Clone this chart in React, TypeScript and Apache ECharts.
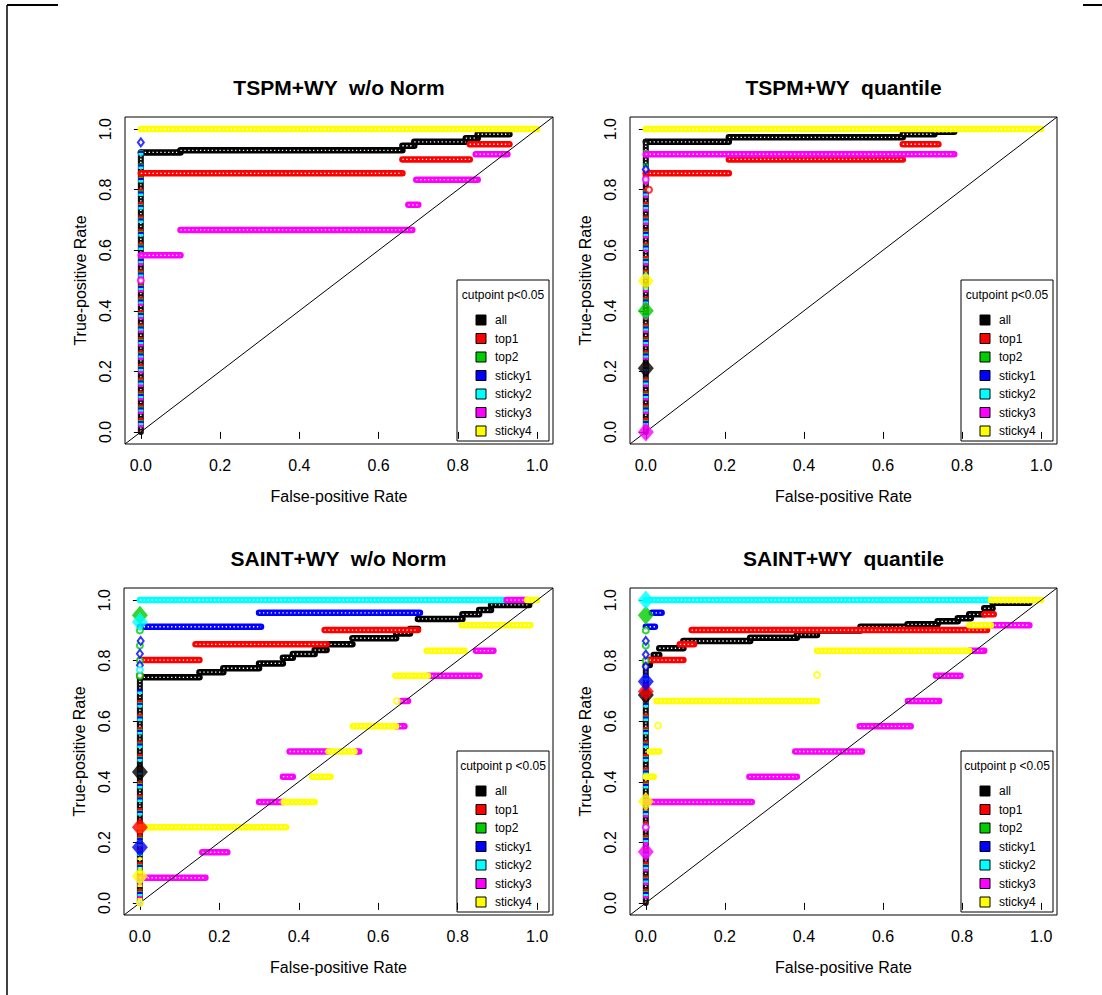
import React, { useEffect, useRef } from 'react';
import * as echarts from 'echarts';

// ---- categories / labels -------------------------------------------------
const methods = ['all', 'top1', 'top2', 'sticky1', 'sticky2', 'sticky3', 'sticky4'];
const methodColors = ['#000000', '#FF0000', '#00CD00', '#0000FF', '#00FFFF', '#FF00FF', '#FFFF00'];
const rateTicks = [0, 0.2, 0.4, 0.6, 0.8, 1.0];
const panelTitles = ['TSPM+WY  w/o Norm', 'TSPM+WY  quantile', 'SAINT+WY  w/o Norm', 'SAINT+WY  quantile'];
const legendTitles = ['cutpoint p<0.05', 'cutpoint p<0.05', 'cutpoint p <0.05', 'cutpoint p <0.05'];
const xAxisName = 'False-positive Rate';
const yAxisName = 'True-positive Rate';

// ---- ROC data ------------------------------------------------------------
// Horizontal runs of each curve: [tpr, fpr from, fpr to]
// Rise: tpr reached by the dense run of points at fpr = 0 (order of `methods`)
// Dots: isolated points [fpr, tpr]; Cuts: cutpoints with p < 0.05 [fpr, tpr]

const tspmRawRuns: Record<string, number[][]> = {
  all: [[0.923, 0, 0.10], [0.93, 0.10, 0.66], [0.945, 0.66, 0.69], [0.958, 0.69, 0.82], [0.97, 0.82, 0.85], [0.983, 0.85, 0.93]],
  top1: [[0.854, 0, 0.66], [0.90, 0.66, 0.83], [0.95, 0.83, 0.93]],
  sticky3: [[0.583, 0, 0.10], [0.667, 0.10, 0.685], [0.75, 0.675, 0.70], [0.833, 0.695, 0.85], [0.917, 0.845, 0.925]],
  sticky4: [[1.0, 0, 1.0]],
};
const tspmRawRise = [0.923, 0.854, 0.93, 0.95, 0.93, 0.583, 0];
const tspmRawDots: Record<string, number[][]> = { sticky1: [[0, 0.956]], sticky3: [[0, 0.5]] };
const tspmRawCuts: Record<string, number[][]> = {};

const tspmQuantRuns: Record<string, number[][]> = {
  all: [[0.958, 0, 0.21], [0.973, 0.21, 0.65], [0.983, 0.65, 0.73], [0.991, 0.73, 0.78]],
  top1: [[0.854, 0, 0.21], [0.90, 0.21, 0.65], [0.95, 0.65, 0.74]],
  sticky3: [[0.917, 0, 0.78]],
  sticky4: [[1.0, 0, 1.0]],
};
const tspmQuantRise = [0.958, 0.854, 0.95, 0.87, 0.94, 0.917, 0];
const tspmQuantDots: Record<string, number[][]> = { top1: [[0.008, 0.80]], sticky1: [[0, 0.867]], sticky3: [[0, 0.834]] };
const tspmQuantCuts: Record<string, number[][]> = { all: [[0, 0.21]], top2: [[0, 0.40]], sticky3: [[0, 0]], sticky4: [[0, 0.498]] };

const saintRawRuns: Record<string, number[][]> = {
  all: [[0.745, 0, 0.15], [0.762, 0.15, 0.21], [0.775, 0.21, 0.30], [0.791, 0.30, 0.36], [0.81, 0.36, 0.385], [0.822, 0.385, 0.44],
    [0.835, 0.44, 0.47], [0.854, 0.47, 0.535], [0.874, 0.535, 0.645], [0.89, 0.645, 0.68], [0.905, 0.68, 0.70], [0.938, 0.70, 0.812],
    [0.953, 0.812, 0.854], [0.967, 0.854, 0.884], [0.984, 0.884, 0.98]],
  top1: [[0.802, 0, 0.15], [0.854, 0.14, 0.47], [0.901, 0.465, 0.70]],
  sticky1: [[0.912, 0, 0.305], [0.958, 0.30, 0.705]],
  sticky2: [[1.0, 0, 0.923]],
  sticky3: [[0.083, 0, 0.165], [0.167, 0.157, 0.22], [0.333, 0.30, 0.362], [0.417, 0.36, 0.385], [0.5, 0.377, 0.475], [0.5, 0.545, 0.552],
    [0.583, 0.645, 0.666], [0.667, 0.658, 0.675], [0.75, 0.725, 0.855], [0.833, 0.846, 0.89], [1.0, 0.923, 0.975]],
  sticky4: [[0.25, 0, 0.368], [0.333, 0.362, 0.44], [0.417, 0.434, 0.48], [0.5, 0.475, 0.54], [0.583, 0.536, 0.645],
    [0.75, 0.643, 0.725], [0.833, 0.722, 0.817], [0.917, 0.81, 0.983], [1.0, 0.975, 1.0]],
};
const saintRawRise = [0.745, 0.70, 0.70, 0.73, 0.72, 0.083, 0.25];
const saintRawDots: Record<string, number[][]> = {
  top1: [[0, 0.753]],
  top2: [[0, 0.90], [0, 0.85], [0, 0.80], [0, 0.75]],
  sticky1: [[0.002, 0.865], [0, 0.823], [0, 0.785]],
  sticky2: [[0, 0.77]],
  sticky4: [[0.647, 0.667], [0, 0]],
};
const saintRawCuts: Record<string, number[][]> = {
  all: [[0, 0.432]], top1: [[0, 0.25]], top2: [[0, 0.95]], sticky1: [[0, 0.184]], sticky2: [[0, 0.928]], sticky4: [[0, 0.088]],
};

const saintQuantRuns: Record<string, number[][]> = {
  all: [[0.786, 0, 0.01], [0.802, 0.01, 0.02], [0.819, 0.02, 0.034], [0.841, 0.034, 0.095], [0.865, 0.095, 0.264], [0.876, 0.264, 0.382],
    [0.885, 0.382, 0.433], [0.90, 0.433, 0.543], [0.912, 0.543, 0.662], [0.92, 0.662, 0.738], [0.93, 0.738, 0.789], [0.94, 0.789, 0.822],
    [0.953, 0.818, 0.856], [0.973, 0.856, 0.877], [0.991, 0.877, 0.97]],
  top1: [[0.802, 0, 0.095], [0.854, 0.086, 0.122], [0.901, 0.116, 0.863], [0.953, 0.856, 0.88]],
  sticky1: [[0.912, 0, 0.023], [0.958, 0.015, 0.04]],
  sticky2: [[1.0, 0, 0.873]],
  sticky3: [[0.333, 0, 0.268], [0.417, 0.262, 0.382], [0.5, 0.378, 0.547], [0.583, 0.541, 0.67], [0.667, 0.663, 0.742],
    [0.75, 0.734, 0.796], [0.833, 0.818, 0.856], [0.917, 0.873, 0.97]],
  sticky4: [[0.417, 0, 0.02], [0.5, 0.01, 0.034], [0.667, 0.027, 0.433], [0.833, 0.433, 0.818], [0.917, 0.818, 0.873], [1.0, 0.873, 1.0]],
};
const saintQuantRise = [0.786, 0.75, 0.78, 0.76, 0.78, 0.333, 0];
const saintQuantDots: Record<string, number[][]> = {
  top2: [[0, 0.90], [0, 0.85], [0, 0.80]],
  sticky1: [[0, 0.865], [0, 0.82], [0, 0.78]],
  sticky3: [[0, 0.25]],
  sticky4: [[0.031, 0.586], [0.433, 0.753]],
};
const saintQuantCuts: Record<string, number[][]> = {
  all: [[0, 0.687]], top1: [[0, 0.698]], top2: [[0, 0.95]], sticky1: [[0, 0.731]], sticky2: [[0, 1.0]], sticky3: [[0, 0.169]], sticky4: [[0, 0.335]],
};

// ---- layout --------------------------------------------------------------
const FONT = '"Liberation Sans", Arial, Helvetica, sans-serif';
const AXIS_MIN = -0.04;
const AXIS_MAX = 1.04;
const gridBoxes = [
  { left: 125, top: 117, width: 428, height: 327 },
  { left: 630, top: 117, width: 427, height: 327 },
  { left: 124, top: 588, width: 429, height: 327 },
  { left: 630, top: 588, width: 427, height: 327 },
];

function makeRender(mi: number) {
  const color = methodColors[mi];
  return (_params: any, api: any) => {
    const p0 = api.coord([api.value(0), api.value(1)]);
    const p1 = api.coord([api.value(2), api.value(3)]);
    const shape = { x1: p0[0], y1: p0[1], x2: p1[0], y2: p1[1] };
    if (api.value(4) === 1) {
      // dense stack of points at fpr = 0
      if (mi === 0) {
        return {
          type: 'group',
          children: [
            { type: 'line', shape, style: { stroke: '#111', lineWidth: 6, lineCap: 'round' } },
            { type: 'line', shape, style: { stroke: '#fff', lineWidth: 1.4, lineDash: [1.3, 1.9] } },
          ],
        };
      }
      return {
        type: 'line',
        shape,
        style: { stroke: color, lineWidth: 5, lineDash: [2.5, 11], lineDashOffset: mi * 1.8 },
      };
    }
    return {
      type: 'group',
      children: [
        { type: 'line', shape, style: { stroke: color, lineWidth: 6.5, lineCap: 'round' } },
        { type: 'line', shape, style: { stroke: '#fff', lineWidth: 1.3, lineDash: [1.3, 2.6] } },
      ],
    };
  };
}

function buildOption(): any {
  const panels = [
    { runs: tspmRawRuns, rise: tspmRawRise, dots: tspmRawDots, cuts: tspmRawCuts },
    { runs: tspmQuantRuns, rise: tspmQuantRise, dots: tspmQuantDots, cuts: tspmQuantCuts },
    { runs: saintRawRuns, rise: saintRawRise, dots: saintRawDots, cuts: saintRawCuts },
    { runs: saintQuantRuns, rise: saintQuantRise, dots: saintQuantDots, cuts: saintQuantCuts },
  ];

  const grid = gridBoxes.map((g) => ({
    ...g,
    show: true,
    borderColor: '#000',
    borderWidth: 1,
    backgroundColor: '#fff',
    outerBoundsMode: 'none',
  }));

  const xAxis = gridBoxes.map((_, i) => ({
    gridIndex: i,
    type: 'value',
    min: AXIS_MIN,
    max: AXIS_MAX,
    axisLine: { show: false },
    splitLine: { show: false },
    axisTick: { show: true, customValues: rateTicks, length: 7, lineStyle: { color: '#000', width: 1 } },
    axisLabel: {
      customValues: rateTicks,
      formatter: (v: number) => v.toFixed(1),
      margin: 13,
      fontSize: 16,
      color: '#000',
      fontFamily: FONT,
    },
    name: xAxisName,
    nameLocation: 'middle',
    nameGap: 44,
    nameTextStyle: { fontSize: 16, color: '#000', fontFamily: FONT },
  }));

  const yAxis = gridBoxes.map((_, i) => ({
    gridIndex: i,
    type: 'value',
    min: AXIS_MIN,
    max: AXIS_MAX,
    axisLine: { show: false },
    splitLine: { show: false },
    axisTick: { show: true, customValues: rateTicks, length: 7, lineStyle: { color: '#000', width: 1 } },
    axisLabel: {
      customValues: rateTicks,
      formatter: (v: number) => v.toFixed(1),
      rotate: 90,
      margin: 12,
      fontSize: 16,
      color: '#000',
      fontFamily: FONT,
    },
    name: yAxisName,
    nameLocation: 'middle',
    nameGap: 37,
    nameTextStyle: { fontSize: 16, color: '#000', fontFamily: FONT },
  }));

  const series: any[] = [];
  panels.forEach((p, pi) => {
    methods.forEach((m, mi) => {
      const data: number[][] = (p.runs[m] || []).map(([t, a, b]) => [a, t, b, t, 0]);
      if (p.rise[mi] > 0) data.push([0, 0, 0, p.rise[mi], 1]);
      series.push({
        type: 'custom',
        name: m,
        coordinateSystem: 'cartesian2d',
        xAxisIndex: pi,
        yAxisIndex: pi,
        renderItem: makeRender(mi),
        data,
        clip: true,
        silent: true,
      });
    });
    // reference line y = x across the plot box
    series.push({
      type: 'line',
      xAxisIndex: pi,
      yAxisIndex: pi,
      data: [[AXIS_MIN, AXIS_MIN], [AXIS_MAX, AXIS_MAX]],
      symbol: 'none',
      lineStyle: { color: '#000', width: 1 },
      silent: true,
      z: 3,
    });
    methods.forEach((m, mi) => {
      const dots = p.dots[m];
      if (!dots) return;
      series.push({
        type: 'scatter',
        name: m,
        xAxisIndex: pi,
        yAxisIndex: pi,
        data: dots,
        symbol: mi === 3 ? 'emptyDiamond' : 'emptyCircle',
        symbolSize: mi === 3 ? [6, 8] : 6,
        itemStyle: { color: methodColors[mi], borderWidth: 1.3 },
        silent: true,
        z: 4,
      });
    });
    methods.forEach((m, mi) => {
      const cuts = p.cuts[m];
      if (!cuts) return;
      series.push({
        type: 'scatter',
        name: m,
        xAxisIndex: pi,
        yAxisIndex: pi,
        data: cuts,
        symbol: 'diamond',
        symbolSize: [16, 19],
        itemStyle: { color: methodColors[mi], borderWidth: 0 },
        silent: true,
        z: 5,
      });
    });
  });

  const graphic: any[] = [];
  // page frame
  graphic.push(
    { type: 'line', shape: { x1: 7, y1: 5, x2: 58, y2: 5 }, style: { stroke: '#000', lineWidth: 2 }, z: 100 },
    { type: 'line', shape: { x1: 7, y1: 5, x2: 7, y2: 995 }, style: { stroke: '#000', lineWidth: 1.5 }, z: 100 },
    { type: 'line', shape: { x1: 1083, y1: 5, x2: 1102, y2: 5 }, style: { stroke: '#000', lineWidth: 2 }, z: 100 },
  );

  gridBoxes.forEach((g, i) => {
    // panel title
    graphic.push({
      type: 'text',
      x: g.left + g.width / 2,
      y: g.top - 30,
      z: 100,
      style: {
        text: panelTitles[i],
        fontSize: 21,
        fontWeight: 'bold',
        fontFamily: FONT,
        fill: '#000',
        align: 'center',
        verticalAlign: 'middle',
        textAlign: 'center',
        textVerticalAlign: 'middle',
      },
    });
    // legend box
    const lw = 92;
    const lh = 161;
    const lx = g.left + g.width - 4 - lw;
    const ly = g.top + g.height - 3 - lh;
    const children: any[] = [
      { type: 'rect', shape: { x: 0, y: 0, width: lw, height: lh }, style: { fill: '#fff', stroke: '#000', lineWidth: 1 } },
      {
        type: 'text',
        x: lw / 2,
        y: 15,
        style: {
          text: legendTitles[i], fontSize: 12, fontFamily: FONT, fill: '#000',
          align: 'center', verticalAlign: 'middle', textAlign: 'center', textVerticalAlign: 'middle',
        },
      },
    ];
    methods.forEach((m, mi) => {
      const cy = 40 + mi * 18.5;
      children.push(
        { type: 'rect', shape: { x: 19, y: cy - 5, width: 10, height: 10 }, style: { fill: methodColors[mi], stroke: '#000', lineWidth: 1 } },
        {
          type: 'text',
          x: 38,
          y: cy,
          style: {
            text: m, fontSize: 12, fontFamily: FONT, fill: '#000',
            align: 'left', verticalAlign: 'middle', textAlign: 'left', textVerticalAlign: 'middle',
          },
        },
      );
    });
    graphic.push({ type: 'group', x: lx, y: ly, z: 100, children });
  });

  return {
    animation: false,
    backgroundColor: '#fff',
    grid,
    xAxis,
    yAxis,
    series,
    graphic,
  };
}

export default function App() {
  const ref = useRef<HTMLDivElement>(null);
  useEffect(() => {
    if (!ref.current) return;
    const chart = echarts.init(ref.current, undefined, { renderer: 'svg' });
    chart.setOption(buildOption());
    return () => chart.dispose();
  }, []);
  return (
    <div
      ref={ref}
      style={{ position: 'absolute', left: 0, top: 0, width: 1102, height: 995, background: '#fff' }}
    />
  );
}
